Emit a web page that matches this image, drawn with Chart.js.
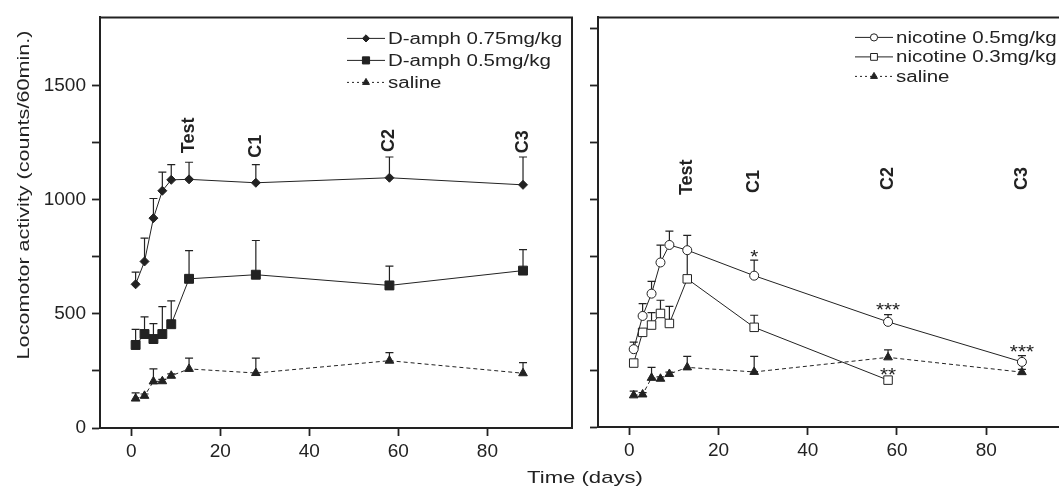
<!DOCTYPE html>
<html>
<head>
<meta charset="utf-8">
<script src="https://cdn.jsdelivr.net/npm/chart.js@4.4.1/dist/chart.umd.min.js"></script>
<style>
  html, body { margin: 0; padding: 0; background: #fff; overflow: hidden; }
  #wrap { position: relative; width: 1059px; height: 491px; overflow: hidden; }
  #left { position: absolute; left: 0; top: 0; }
  #right { position: absolute; left: 580px; top: 0; }
  #xtitle {
    position: absolute; left: 585px; top: 468px; line-height: 20px;
    font: 17px "Liberation Sans", Arial, sans-serif; color: #222;
    transform: translateX(-50%) scaleX(1.3); white-space: nowrap;
  }
</style>
</head>
<body>
<div id="wrap">
  <canvas id="left" width="580" height="491"></canvas>
  <canvas id="right" width="500" height="491"></canvas>
  <div id="xtitle">Time (days)</div>
</div>
<script>
// days of testing
const days = [1, 3, 5, 7, 9, 13, 28, 58, 88];
const nic03Days = [1, 3, 5, 7, 9, 13, 28, 58];

// left panel: d-amphetamine
const amph075 = [630, 730, 920, 1040, 1088, 1090, 1075, 1097, 1066];
const amph075Err = [53, 102, 86, 82, 67, 75, 80, 91, 122];
const amph05 = [364, 412, 390, 412, 455, 654, 672, 625, 690];
const amph05Err = [68, 75, 68, 120, 102, 124, 150, 85, 92];
const salineL = [129, 141, 204, 205, 229, 259, 241, 295, 240];
const salineLErr = [25, 8, 55, 8, 8, 47, 65, 35, 47];

// right panel: nicotine
const nic05 = [342, 488, 586, 723, 800, 777, 665, 462, 286];
const nic05Err = [31, 54, 54, 76, 61, 65, 68, 32, 28];
const nic03 = [281, 416, 448, 499, 455, 651, 438, 206];
const nic03Err = [10, 10, 55, 58, 75, 120, 53, 0];
const salineR = [139, 143, 216, 212, 233, 262, 242, 306, 241];
const salineRErr = [19, 8, 46, 8, 8, 48, 68, 33, 12];

// axes
const xTicks = [0, 20, 40, 60, 80];
const yLabeled = [0, 500, 1000, 1500];

// session labels and significance marks
const sessionLabels = ['Test', 'C1', 'C2', 'C3'];
const sessionDays = [13, 28, 58, 88];
const sessionYLeft = [1205, 1185, 1210, 1205];
const sessionYRight = [1019, 1028, 1041, 1041];
const starLabels = ['*', '***', '**', '***'];
const starDays = [28, 58, 58, 88];
const starY = [763, 533, 247, 347];

const FONT = '"Liberation Sans", Arial, sans-serif';
const INK = '#222';

const pts = (xs, ys) => ys.map((v, i) => ({ x: xs[i], y: v }));

function wideText(ctx, text, x, y, sx) {
  ctx.save();
  ctx.translate(x, y);
  ctx.scale(sx, 1);
  ctx.fillText(text, 0, 0);
  ctx.restore();
}

function drawMarker(ctx, style, x, y, r, fill) {
  ctx.beginPath();
  if (style === 'circle') {
    ctx.arc(x, y, r, 0, Math.PI * 2);
  } else if (style === 'rect') {
    const h = r * Math.SQRT1_2;
    ctx.rect(x - h, y - h, 2 * h, 2 * h);
  } else if (style === 'rectRot') {
    ctx.moveTo(x, y - r); ctx.lineTo(x + r, y); ctx.lineTo(x, y + r); ctx.lineTo(x - r, y);
    ctx.closePath();
  } else if (style === 'triangle') {
    const s = Math.sin(Math.PI / 3) * r;
    ctx.moveTo(x, y - r); ctx.lineTo(x + s, y + r / 2); ctx.lineTo(x - s, y + r / 2);
    ctx.closePath();
  }
  ctx.fillStyle = fill;
  ctx.fill();
  ctx.strokeStyle = INK;
  ctx.lineWidth = 1;
  ctx.stroke();
}

const panelPlugin = {
  id: 'panel',
  beforeDatasetsDraw(chart) {
    // upward error bars
    const ctx = chart.ctx;
    const ys = chart.scales.y;
    chart.data.datasets.forEach((ds, i) => {
      if (!ds.err) return;
      const meta = chart.getDatasetMeta(i);
      ctx.save();
      ctx.strokeStyle = INK;
      ctx.lineWidth = 1.2;
      meta.data.forEach((pt, j) => {
        const e = ds.err[j];
        if (!e) return;
        const top = ys.getPixelForValue(ds.data[j].y + e);
        ctx.beginPath();
        ctx.moveTo(pt.x, pt.y);
        ctx.lineTo(pt.x, top);
        ctx.moveTo(pt.x - 4, top);
        ctx.lineTo(pt.x + 4, top);
        ctx.stroke();
      });
      ctx.restore();
    });
  },
  afterDraw(chart, args, opts) {
    const ctx = chart.ctx;
    const a = chart.chartArea;
    const xs = chart.scales.x;
    const ys = chart.scales.y;
    ctx.save();

    // top and right border
    ctx.strokeStyle = INK;
    ctx.lineWidth = 2;
    ctx.beginPath();
    ctx.moveTo(a.left, a.top);
    ctx.lineTo(a.right, a.top);
    ctx.lineTo(a.right, a.bottom);
    ctx.stroke();

    // legend
    ctx.font = '16px ' + FONT;
    ctx.textBaseline = 'middle';
    ctx.textAlign = 'left';
    chart.data.datasets.forEach((ds, i) => {
      const x0 = a.left + opts.legendX;
      const y = a.top + opts.legendY + i * opts.legendRow;
      ctx.strokeStyle = INK;
      ctx.lineWidth = 1;
      ctx.setLineDash(ds.borderDash && ds.borderDash.length ? [2, 3] : []);
      ctx.beginPath();
      ctx.moveTo(x0, y);
      ctx.lineTo(x0 + 38, y);
      ctx.stroke();
      ctx.setLineDash([]);
      drawMarker(ctx, ds.pointStyle, x0 + 19, y, ds.pointRadius * 0.8, ds.pointBackgroundColor);
      ctx.fillStyle = INK;
      wideText(ctx, ds.label, x0 + 41, y + 1, 1.28);
    });

    // session labels
    ctx.font = 'bold 18px ' + FONT;
    ctx.fillStyle = INK;
    ctx.textAlign = 'left';
    ctx.textBaseline = 'middle';
    opts.sessionY.forEach((v, i) => {
      ctx.save();
      ctx.translate(xs.getPixelForValue(sessionDays[i]), ys.getPixelForValue(v));
      ctx.rotate(-Math.PI / 2);
      ctx.fillText(sessionLabels[i], 0, 0);
      ctx.restore();
    });

    // significance stars
    if (opts.stars) {
      ctx.font = '18px ' + FONT;
      ctx.textAlign = 'center';
      ctx.textBaseline = 'alphabetic';
      starLabels.forEach((s, i) => {
        wideText(ctx, s, xs.getPixelForValue(starDays[i]), ys.getPixelForValue(starY[i]) + 10, 1.15);
      });
    }

    // y axis title
    if (opts.yTitle) {
      ctx.font = '17px ' + FONT;
      ctx.textAlign = 'center';
      ctx.textBaseline = 'middle';
      ctx.translate(24, 195);
      ctx.rotate(-Math.PI / 2);
      wideText(ctx, opts.yTitle, 0, 0, 1.27);
    }
    ctx.restore();
  }
};

function scalesFor(yWidth, xHeight, yTop, showY) {
  const yTicks = [];
  for (let v = 0; v <= yTop; v += 250) yTicks.push({ value: v });
  return {
    x: {
      type: 'linear', min: -7, max: 99,
      afterBuildTicks: s => { s.ticks = xTicks.map(v => ({ value: v })); },
      afterFit: s => { s.height = xHeight; },
      grid: { drawOnChartArea: false, drawTicks: true, tickLength: 8, tickWidth: 1.8, tickColor: INK },
      border: { width: 2, color: INK },
      ticks: { color: INK, padding: 4, font: { family: FONT, size: 19 }, maxRotation: 0 }
    },
    y: {
      type: 'linear', min: 0, max: 1800,
      afterBuildTicks: s => { s.ticks = yTicks.slice(); },
      afterFit: s => { s.width = yWidth; },
      grid: { drawOnChartArea: false, drawTicks: true, tickLength: 8, tickWidth: 1.8, tickColor: INK },
      border: { width: 2, color: INK },
      ticks: {
        color: INK, padding: 6, font: { family: FONT, size: 19 },
        callback: v => (showY && yLabeled.includes(v)) ? String(v) : ''
      }
    }
  };
}

function series(label, xs, ys, err, style, radius, fill, dashed) {
  return {
    label: label,
    data: pts(xs, ys),
    err: err,
    borderColor: INK,
    borderWidth: 1,
    borderDash: dashed ? [4, 3] : [],
    pointStyle: style,
    pointRadius: radius,
    pointBackgroundColor: fill,
    pointBorderColor: INK,
    pointBorderWidth: 1,
    fill: false,
    tension: 0
  };
}

new Chart(document.getElementById('left').getContext('2d'), {
  type: 'line',
  data: {
    datasets: [
      series('D-amph 0.75mg/kg', days, amph075, amph075Err, 'rectRot', 4.5, INK, false),
      series('D-amph 0.5mg/kg', days, amph05, amph05Err, 'rect', 6.3, INK, false),
      series('saline', days, salineL, salineLErr, 'triangle', 5, INK, true)
    ]
  },
  options: {
    responsive: false,
    animation: false,
    layout: { padding: { left: 0, top: 13, right: 8, bottom: 0 } },
    scales: scalesFor(100, 63, 1500, true),
    plugins: {
      legend: { display: false },
      tooltip: { enabled: false },
      panel: {
        legendX: 247, legendY: 21, legendRow: 22,
        sessionY: sessionYLeft, stars: false,
        yTitle: 'Locomotor activity (counts/60min.)'
      }
    }
  },
  plugins: [panelPlugin]
});

new Chart(document.getElementById('right').getContext('2d'), {
  type: 'line',
  data: {
    datasets: [
      series('nicotine 0.5mg/kg', days, nic05, nic05Err, 'circle', 4.5, '#fff', false),
      series('nicotine 0.3mg/kg', nic03Days, nic03, nic03Err, 'rect', 6, '#fff', false),
      series('saline', days, salineR, salineRErr, 'triangle', 5, INK, true)
    ]
  },
  options: {
    responsive: false,
    animation: false,
    layout: { padding: { left: 0, top: 12, right: 9, bottom: 0 } },
    scales: scalesFor(18, 64, 1750, false),
    plugins: {
      legend: { display: false },
      tooltip: { enabled: false },
      panel: {
        legendX: 257, legendY: 20, legendRow: 19.5,
        sessionY: sessionYRight, stars: true, yTitle: ''
      }
    }
  },
  plugins: [panelPlugin]
});
</script>
</body>
</html>
